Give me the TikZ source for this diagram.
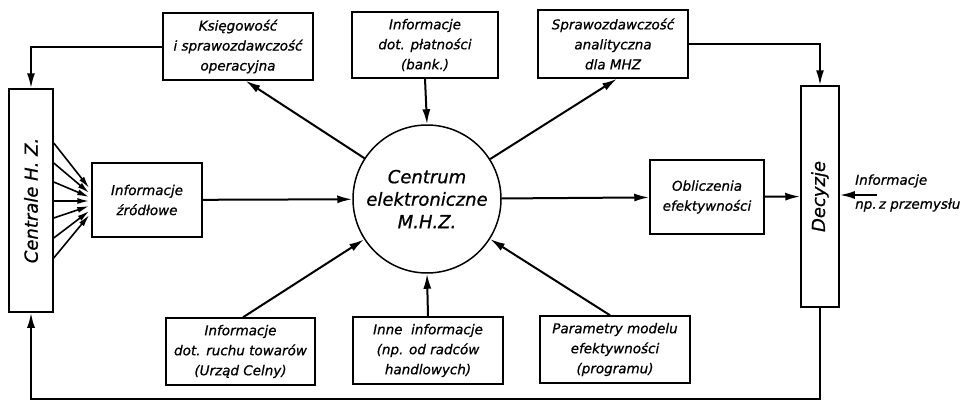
\documentclass[tikz,border=0pt]{standalone}
\usepackage{fontspec}
\usepackage{graphicx}
\setmainfont{DejaVu Sans}[ItalicFeatures={FakeBold=0.8}]
\usetikzlibrary{arrows.meta,calc}
\tikzset{
  box/.style={draw, line width=1.5pt, inner sep=0pt, align=center,
    font=\fontsize{13.5}{20}\selectfont\itshape},
  conn/.style={line width=2pt, -{Latex[length=15pt,width=8pt]}},
  bigtext/.style={font=\fontsize{18}{22.5}\selectfont\itshape}
}
\begin{document}
\begin{tikzpicture}[x=1pt,y=-1pt]
\useasboundingbox (0,0) rectangle (961,402);
% boxes
\node[box, minimum width=150, minimum height=67] (ks) at (238,46.5) {Księgowość\\i sprawozdawczość\\operacyjna};
\node[box, minimum width=146, minimum height=66] (pl) at (425,45) {Informacje\\dot. płatności\\(bank.)};
\node[box, minimum width=150, minimum height=68] (sp) at (613,44) {Sprawozdawczość\\analityczna\\dla MHZ};
\node[box, minimum width=110, minimum height=74] (zr) at (147,200) {Informacje\\źródłowe};
\node[box, minimum width=114, minimum height=74] (ob) at (707,197) {Obliczenia\\efektywności};
\node[box, minimum width=149, minimum height=67] (rt) at (240.5,351.5) {Informacje\\dot. ruchu towarów\\(Urząd Celny)};
\node[box, minimum width=150, minimum height=67] (in) at (428,350.5) {Inne\ \ informacje\\(np. od radców\\handlowych)};
\node[box, minimum width=150, minimum height=67] (pa) at (615,349.5) {Parametry modelu\\efektywności\\(programu)};
\node[box, bigtext, minimum width=44, minimum height=223] (cen) at (31,200.5) {\rotatebox{90}{Centrale H. Z.}};
\node[box, bigtext, minimum width=38, minimum height=221] (dec) at (820,196.5) {\rotatebox{90}{Decyzje}};
\node[draw, circle, line width=1.5pt, inner sep=0pt, minimum size=148, align=center, bigtext] (c) at (427,199) {Centrum\\elektroniczne\\M.H.Z.};
\node[anchor=west, align=left, inner sep=0pt, font=\fontsize{13.5}{24}\selectfont\itshape] (inf) at (855,193) {Informacje\\np.\,z przemysłu};
% connection points
\coordinate (ksb) at ($(ks.south west)!0.55!(ks.south east)$);
\coordinate (spb) at ($(sp.south west)!0.527!(sp.south east)$);
\coordinate (rtt) at ($(rt.north west)!0.517!(rt.north east)$);
\coordinate (pat) at ($(pa.north west)!0.467!(pa.north east)$);
\coordinate (infs) at (877,195);
\coordinate (loop) at (0,399);
% connectors
\draw[conn] (ks.west) -| (cen.north);
\draw[conn] (sp.east) -| (dec.north);
\draw[conn] (pl.south) -- (c.north);
\draw[conn] (c) -- (ksb);
\draw[conn] (c) -- (spb);
\draw[conn] (zr) -- (c);
\draw[conn] (c) -- (ob);
\draw[conn] (ob) -- (dec);
\draw[conn] (infs) -- (infs -| dec.east);
\draw[conn] (rtt) -- (c);
\draw[conn] (in.north) -- (c.south);
\draw[conn] (pat) -- (c);
\draw[conn] (dec.south) |- (loop -| cen.south) -- (cen.south);
% fan
\foreach \s/\e in {-57.5/-12, -37.5/-7, -18.5/-3, 0.5/1, 17.5/6, 37.5/11, 57.5/15}{
  \draw[line width=1.6pt, -{Latex[length=12pt,width=6pt]}] ($(cen.east)+(0,\s)$) -- ($(zr.west)+(-2,\e)$);
}
\end{tikzpicture}
\end{document}
